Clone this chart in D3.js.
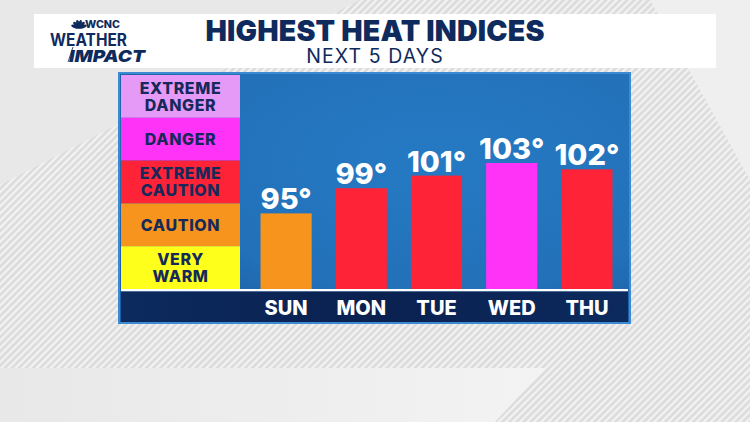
<!DOCTYPE html>
<html>
<head>
<meta charset="utf-8">
<script src="https://cdn.jsdelivr.net/npm/d3@7"></script>
<style>
  html, body { margin: 0; padding: 0; background: #e6e6e6; }
  svg { display: block; font-family: "Inter", "Lato", sans-serif; }
</style>
</head>
<body>
<svg width="750" height="422"></svg>
<script>
var days = ["SUN", "MON", "TUE", "WED", "THU"];
var heatIndex = [95, 99, 101, 103, 102];

var levels = ["EXTREME DANGER", "DANGER", "EXTREME CAUTION", "CAUTION", "VERY WARM"];
var levelColors = ["#e59af7", "#ff33f7", "#ff2338", "#f7941d", "#ffff1c"];
// lower bound of each level, same order as levels
var levelFloors = [111, 103, 98, 90, 0];

var title = "HIGHEST HEAT INDICES";
var subtitle = "NEXT 5 DAYS";

var navy = "#0f2a5c";

var svg = d3.select("svg"),
    W = +svg.attr("width"),
    H = +svg.attr("height");

var defs = svg.append("defs");

var stripes = defs.append("pattern")
    .attr("id", "stripes")
    .attr("patternUnits", "userSpaceOnUse")
    .attr("width", 5).attr("height", 5)
    .attr("patternTransform", "rotate(45)");
stripes.append("rect").attr("width", 5).attr("height", 5).attr("fill", "#dcdcdc");
stripes.append("rect").attr("width", 2.2).attr("height", 5).attr("fill", "#f3f3f3");

var blueGrad = defs.append("radialGradient")
    .attr("id", "blueGrad")
    .attr("cx", "62%").attr("cy", "35%").attr("r", "75%");
blueGrad.append("stop").attr("offset", "0%").attr("stop-color", "#257ac3");
blueGrad.append("stop").attr("offset", "70%").attr("stop-color", "#2271b9");
blueGrad.append("stop").attr("offset", "100%").attr("stop-color", "#1d5fa5");

var navyGrad = defs.append("linearGradient")
    .attr("id", "navyGrad").attr("x1", 0).attr("x2", 1).attr("y1", 0).attr("y2", 0);
navyGrad.append("stop").attr("offset", "0%").attr("stop-color", "#0c2a5e");
navyGrad.append("stop").attr("offset", "50%").attr("stop-color", "#0a2150");
navyGrad.append("stop").attr("offset", "100%").attr("stop-color", "#0c2a5e");

var bottomGrad = defs.append("linearGradient")
    .attr("id", "bottomGrad").attr("x1", 0).attr("x2", 1).attr("y1", 0).attr("y2", 0);
bottomGrad.append("stop").attr("offset", "0%").attr("stop-color", "#e8e8e8");
bottomGrad.append("stop").attr("offset", "100%").attr("stop-color", "#f3f3f3");

// background
svg.append("rect").attr("width", W).attr("height", H).attr("fill", "url(#stripes)");
svg.append("polygon").attr("points", "0,0 360,0 0,185").attr("fill", "#e8e8e8");
svg.append("polygon").attr("points", "650,0 750,0 750,180").attr("fill", "#efefef");
svg.append("polygon").attr("points", "0,368 545,368 495,422 0,422").attr("fill", "url(#bottomGrad)");

// header
svg.append("rect")
    .attr("x", 34).attr("y", 14).attr("width", 682).attr("height", 54)
    .attr("fill", "#ffffff");

svg.append("text")
    .attr("x", 375).attr("y", 40.5)
    .attr("text-anchor", "middle")
    .attr("fill", navy)
    .attr("font-size", 28.5).attr("font-weight", 900)
    .attr("letter-spacing", 0.2)
    .text(title);

svg.append("text")
    .attr("x", 375).attr("y", 62.5)
    .attr("text-anchor", "middle")
    .attr("fill", navy)
    .attr("font-size", 19.5).attr("font-weight", 400)
    .attr("letter-spacing", 1.1)
    .text(subtitle);

// logo
var logo = svg.append("g").attr("fill", navy);
var peacock = logo.append("g").attr("transform", "translate(79,28)");
d3.range(6).forEach(function(i) {
  var a = -160 + i * 28;
  peacock.append("ellipse")
      .attr("rx", 1.6).attr("ry", 4.2)
      .attr("transform", "rotate(" + (a + 90) + ") translate(0,-4)");
});
logo.append("text")
    .attr("x", 85).attr("y", 28)
    .attr("font-size", 10).attr("font-weight", 800)
    .attr("textLength", 35).attr("lengthAdjust", "spacingAndGlyphs")
    .text("WCNC");
logo.append("text")
    .attr("x", 50).attr("y", 45.5)
    .attr("font-size", 17).attr("font-weight", 700)
    .attr("textLength", 77).attr("lengthAdjust", "spacingAndGlyphs")
    .text("WEATHER");
logo.append("text")
    .attr("x", 69).attr("y", 62)
    .attr("font-size", 16.5).attr("font-weight", 900)
    .attr("font-style", "italic")
    .attr("textLength", 76).attr("lengthAdjust", "spacingAndGlyphs")
    .text("IMPACT");
logo.append("line")
    .attr("x1", 73).attr("y1", 47).attr("x2", 68).attr("y2", 62)
    .attr("stroke", navy).attr("stroke-width", 0.8);

// panel
svg.append("rect")
    .attr("x", 118).attr("y", 72).attr("width", 513).attr("height", 252)
    .attr("fill", "#3b8ad2");
svg.append("rect")
    .attr("x", 120).attr("y", 74).attr("width", 509).attr("height", 248)
    .attr("fill", "url(#blueGrad)");

// legend column
var legendY = d3.scaleBand()
    .domain(levels)
    .range([75, 289]);

var legend = svg.append("g").selectAll("g")
  .data(levels)
  .enter().append("g")
    .attr("transform", function(d) { return "translate(121," + legendY(d) + ")"; });

legend.append("rect")
    .attr("width", 119)
    .attr("height", legendY.bandwidth())
    .attr("fill", function(d, i) { return levelColors[i]; });

legend.append("text")
    .attr("text-anchor", "middle")
    .attr("fill", "#15295a")
    .attr("font-size", 16).attr("font-weight", 800)
    .attr("letter-spacing", 0.6)
    .each(function(d) {
      var words = d.split(" ");
      var el = d3.select(this);
      var mid = legendY.bandwidth() / 2;
      var lh = 17;
      var start = mid + 6 - (words.length - 1) * lh / 2;
      words.forEach(function(w, k) {
        el.append("tspan").attr("x", 59.5).attr("y", start + k * lh).text(w);
      });
    });

// bars
var x = d3.scaleBand()
    .domain(days)
    .range([248.5, 624.5])
    .paddingInner(0.32)
    .paddingOuter(0.16);

var y = d3.scaleLinear()
    .domain([83, 103])
    .range([289, 163]);

function levelColor(v) {
  for (var i = 0; i < levelFloors.length; i++) {
    if (v >= levelFloors[i]) return levelColors[i];
  }
  return levelColors[levelColors.length - 1];
}

var bars = svg.append("g").selectAll("g")
  .data(days)
  .enter().append("g");

bars.append("rect")
    .attr("x", function(d) { return x(d); })
    .attr("y", function(d, i) { return y(heatIndex[i]); })
    .attr("width", x.bandwidth())
    .attr("height", function(d, i) { return y.range()[0] - y(heatIndex[i]); })
    .attr("fill", function(d, i) { return levelColor(heatIndex[i]); });

bars.append("text")
    .attr("x", function(d) { return x(d) + x.bandwidth() / 2; })
    .attr("y", function(d, i) { return y(heatIndex[i]) - 4; })
    .attr("text-anchor", "middle")
    .attr("fill", "#ffffff")
    .attr("font-size", 29).attr("font-weight", 800)
    .text(function(d, i) { return heatIndex[i] + "°"; });

// axis strip
svg.append("rect")
    .attr("x", 121).attr("y", 289).attr("width", 507).attr("height", 2.5)
    .attr("fill", "#ffffff");
svg.append("rect")
    .attr("x", 121).attr("y", 291.5).attr("width", 507).attr("height", 30.5)
    .attr("fill", "url(#navyGrad)");

var axis = svg.append("g")
    .attr("transform", "translate(0,291)")
    .call(d3.axisBottom(x).tickSize(0).tickPadding(0));
axis.select(".domain").remove();
axis.selectAll("text")
    .attr("y", 24)
    .attr("dy", null)
    .attr("fill", "#ffffff")
    .attr("font-size", 20).attr("font-weight", 800)
    .attr("font-family", "Inter, Lato, sans-serif");
</script>
</body>
</html>
